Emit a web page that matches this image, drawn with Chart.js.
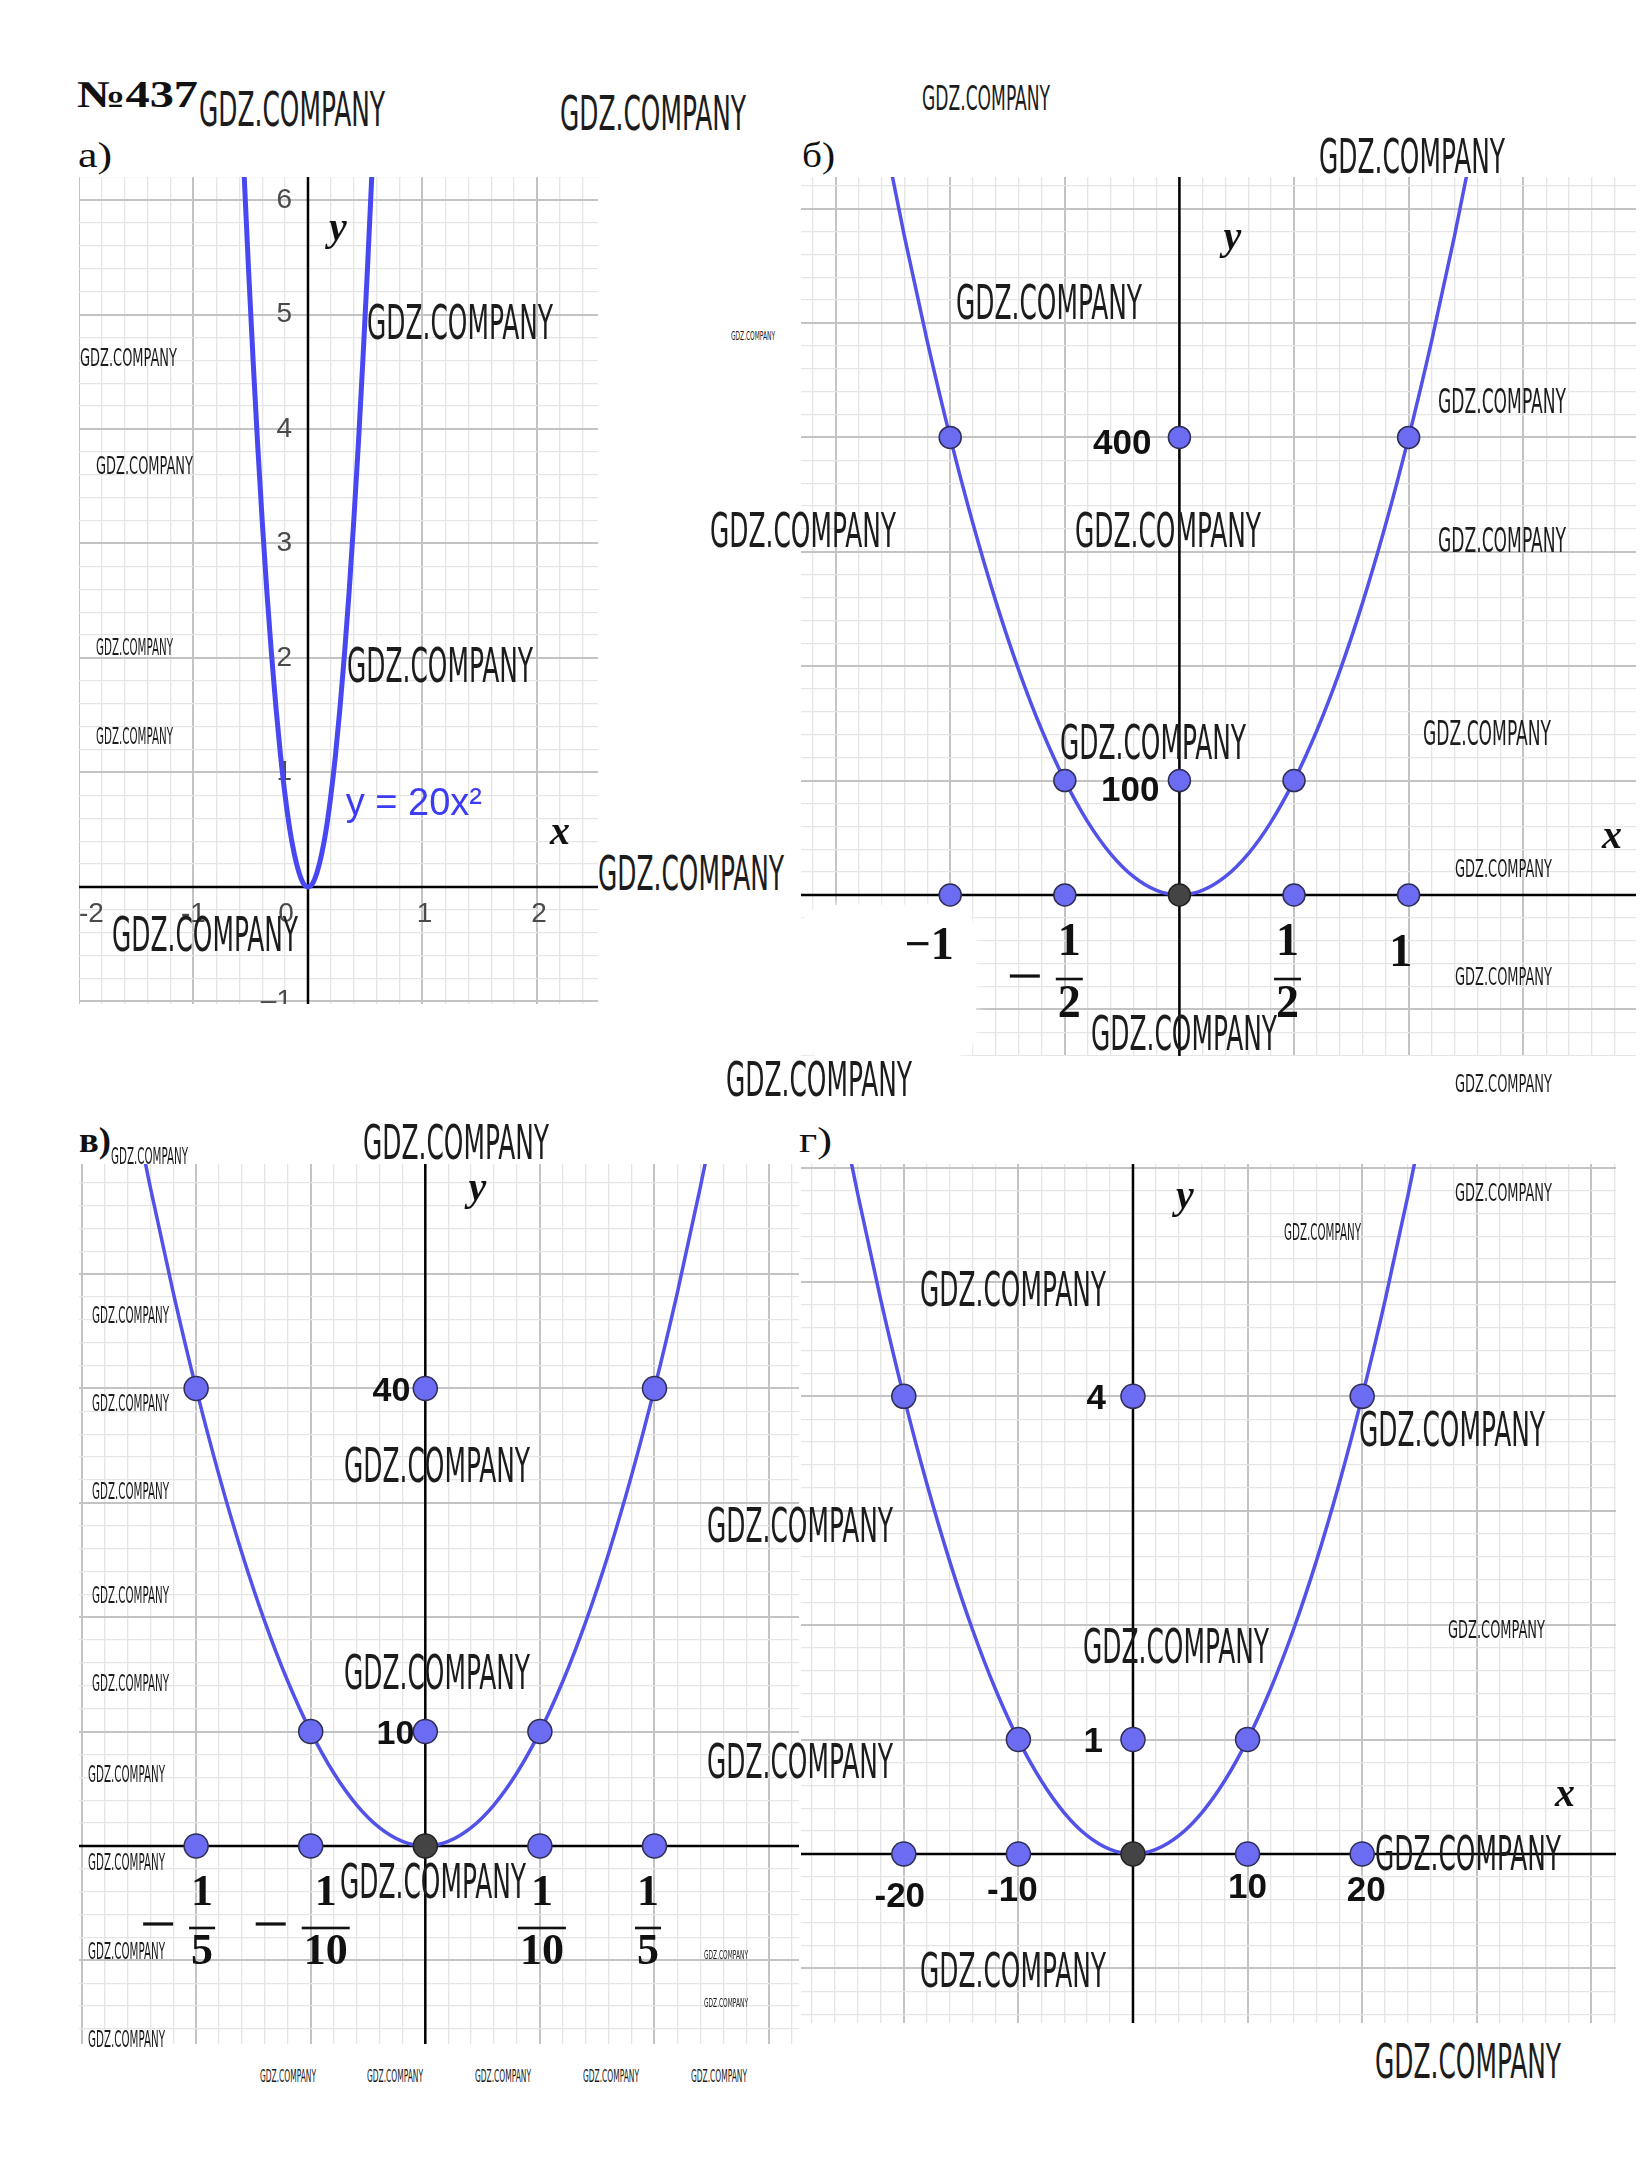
<!DOCTYPE html>
<html>
<head>
<meta charset="utf-8">
<script src="https://cdn.jsdelivr.net/npm/chart.js@4.4.1/dist/chart.umd.min.js"></script>
<style>
  body { margin: 0; background: #fff; width: 1649px; height: 2165px; position: relative; overflow: hidden; }
  .panel { position: absolute; }
  .wm { position: absolute; white-space: nowrap; font-family: "Liberation Sans Narrow", "DejaVu Sans Condensed", "Liberation Sans", sans-serif; color: #1c1c1c; transform-origin: 0 0; line-height: 1; }
  .hd { position: absolute; white-space: nowrap; font-family: "Liberation Serif", serif; color: #111; transform-origin: 0 0; line-height: 1; }
</style>
</head>
<body>
<div class="panel" style="left:79px;top:177px;width:519px;height:827px"><canvas id="ca"></canvas></div>
<div class="panel" style="left:801px;top:177px;width:835px;height:879px"><canvas id="cb"></canvas></div>
<div class="panel" style="left:79px;top:1164px;width:720px;height:880px"><canvas id="cv"></canvas></div>
<div class="panel" style="left:801px;top:1164px;width:815px;height:859px"><canvas id="cg"></canvas></div>
<script>
// а) y = 20x²
const curveAx = [-0.56,-0.52,-0.48,-0.44,-0.4,-0.36,-0.32,-0.28,-0.24,-0.2,-0.16,-0.12,-0.08,-0.04,0,0.04,0.08,0.12,0.16,0.2,0.24,0.28,0.32,0.36,0.4,0.44,0.48,0.52,0.56];
const curveAy = [6.27,5.41,4.61,3.87,3.2,2.59,2.05,1.57,1.15,0.8,0.51,0.29,0.13,0.03,0,0.03,0.13,0.29,0.51,0.8,1.15,1.57,2.05,2.59,3.2,3.87,4.61,5.41,6.27];
const ticksAx = [-2,-1,0,1,2];
const labelsAx = ['-2','-1','0','1','2'];
const ticksAy = [6,5,4,3,2,1,-1];
const labelsAy = ['6','5','4','3','2','1','–1'];

// б) y = 400x²
const curveBx = [-1.3,-1.2,-1.1,-1,-0.9,-0.8,-0.7,-0.6,-0.5,-0.4,-0.3,-0.2,-0.1,0,0.1,0.2,0.3,0.4,0.5,0.6,0.7,0.8,0.9,1,1.1,1.2,1.3];
const curveBy = [676,576,484,400,324,256,196,144,100,64,36,16,4,0,4,16,36,64,100,144,196,256,324,400,484,576,676];
const dotsBx = [-1,-0.5,0.5,1,0,0,-1,-0.5,0.5,1];
const dotsBy = [400,100,100,400,400,100,0,0,0,0];
const ticksBx = [-1,-0.5,0.5,1];
const labelsBx = ['−1','−1/2','1/2','1'];
const ticksBy = [400,100];
const labelsBy = ['400','100'];

// в) y = 1000x²
const curveVx = [-0.25,-0.24,-0.22,-0.2,-0.18,-0.16,-0.14,-0.12,-0.1,-0.08,-0.06,-0.04,-0.02,0,0.02,0.04,0.06,0.08,0.1,0.12,0.14,0.16,0.18,0.2,0.22,0.24,0.25];
const curveVy = [62.5,57.6,48.4,40,32.4,25.6,19.6,14.4,10,6.4,3.6,1.6,0.4,0,0.4,1.6,3.6,6.4,10,14.4,19.6,25.6,32.4,40,48.4,57.6,62.5];
const dotsVx = [-0.2,-0.1,0.1,0.2,0,0,-0.2,-0.1,0.1,0.2];
const dotsVy = [40,10,10,40,40,10,0,0,0,0];
const ticksVx = [-0.2,-0.1,0.1,0.2];
const labelsVx = ['−1/5','−1/10','1/10','1/5'];
const ticksVy = [40,10];
const labelsVy = ['40','10'];

// г) y = x²/100
const curveGx = [-25,-24,-22,-20,-18,-16,-14,-12,-10,-8,-6,-4,-2,0,2,4,6,8,10,12,14,16,18,20,22,24,25];
const curveGy = [6.25,5.76,4.84,4,3.24,2.56,1.96,1.44,1,0.64,0.36,0.16,0.04,0,0.04,0.16,0.36,0.64,1,1.44,1.96,2.56,3.24,4,4.84,5.76,6.25];
const dotsGx = [-20,-10,10,20,0,0,-20,-10,10,20];
const dotsGy = [4,1,1,4,4,1,0,0,0,0];
const ticksGx = [-20,-10,10,20];
const labelsGx = ['-20','-10','10','20'];
const ticksGy = [4,1];
const labelsGy = ['4','1'];

// watermarks: type, left, cap top
const wmTypes = { B: [186, 34], M: [128, 24], S: [97, 18], T: [77, 16], U: [56, 13], X: [44, 9] };
const watermarks = [
  ['B',199,92],['B',560,96],['M',922,86],['B',1319,139],['B',367,305],['S',80,348],['S',96,456],['X',731,332],
  ['B',956,285],['M',1438,389],['B',710,513],['B',1075,513],['M',1438,528],['T',96,639],['B',347,648],['T',96,728],
  ['B',1060,725],['M',1423,721],['B',598,856],['S',1455,859],['B',112,917],['S',1455,967],['B',1091,1016],['B',726,1062],
  ['S',1455,1074],['T',111,1148],['B',363,1125],
  ['T',92,1307],['T',92,1395],['T',92,1483],['T',92,1587],['T',92,1675],['T',88,1766],['T',88,1854],['T',88,1943],['T',88,2031],
  ['B',344,1448],['B',344,1655],['B',340,1864],['B',707,1508],['B',707,1744],
  ['B',920,1272],['S',1455,1183],['T',1284,1224],['B',1359,1412],['B',1083,1629],['S',1448,1620],['B',1375,1836],
  ['B',920,1953],['B',1375,2044],
  ['U',260,2069],['U',367,2069],['U',475,2069],['U',583,2069],['U',691,2069],['X',704,1951],['X',704,1999]
];

const pick = (v, i) => Array.isArray(v) ? v[i] : (v || 0);
const isMajor = (v, m) => Math.abs(v / m - Math.round(v / m)) < 1e-6;

function drawFrac(ctx, t, cx, y0, f) {
  const neg = t[0] === '−';
  const [n, d] = (neg ? t.slice(1) : t).split('/');
  ctx.font = f.font; ctx.fillStyle = f.color; ctx.textAlign = 'center'; ctx.textBaseline = 'middle';
  ctx.fillText(n, cx, y0 + f.num);
  ctx.fillText(d, cx, y0 + f.den);
  const half = ctx.measureText(d).width / 2 + 2;
  ctx.fillRect(cx - half, y0 + f.bar - 1.3, half * 2, 2.6);
  if (neg) ctx.fillRect(cx - half - 16 - 30, y0 + f.minus - 1.6, 30, 3.2);
}

const marksPlugin = {
  id: 'marks',
  beforeDatasetsDraw(chart, args, o) {
    const { ctx, chartArea: a } = chart;
    const sx = chart.scales.x, sy = chart.scales.y;
    const x0 = sx.getPixelForValue(0), y0 = sy.getPixelForValue(0);
    ctx.save();
    (o.erase || []).forEach(r => {
      ctx.save();
      ctx.fillStyle = 'rgba(255,255,255,0.94)';
      ctx.shadowColor = '#fff'; ctx.shadowBlur = 14;
      ctx.beginPath(); ctx.roundRect(a.left + r[0], a.top + r[1], r[2], r[3], 30); ctx.fill();
      ctx.restore();
    });
    ctx.strokeStyle = '#000'; ctx.lineWidth = 2.5;
    ctx.beginPath();
    ctx.moveTo(a.left, y0); ctx.lineTo(a.right, y0);
    ctx.moveTo(x0, a.top); ctx.lineTo(x0, a.bottom);
    ctx.stroke();

    const yl = o.yLabels;
    ctx.font = yl.font; ctx.fillStyle = yl.color; ctx.textAlign = 'right'; ctx.textBaseline = 'middle';
    yl.values.forEach((v, i) => ctx.fillText(yl.texts[i], x0 + pick(yl.dx, i), sy.getPixelForValue(v) + pick(yl.dy, i)));

    const xl = o.xLabels;
    xl.values.forEach((v, i) => {
      const t = xl.texts[i];
      let cx = sx.getPixelForValue(v) + pick(xl.dx, i);
      if (t.includes('/')) { drawFrac(ctx, t, cx, y0, xl.frac); return; }
      ctx.font = xl.font; ctx.fillStyle = xl.color; ctx.textAlign = 'center'; ctx.textBaseline = 'middle';
      const w = ctx.measureText(t).width;
      if (cx - w / 2 < a.left) cx = a.left + w / 2;
      ctx.fillText(t, cx, y0 + pick(xl.dy, i));
    });

    ctx.font = 'italic bold 40px "Liberation Serif", serif';
    ctx.fillStyle = '#111'; ctx.textAlign = 'center'; ctx.textBaseline = 'middle';
    if (o.yName) ctx.fillText('y', x0 + o.yName[0], a.top + o.yName[1]);
    if (o.xName) ctx.fillText('x', a.right + o.xName[0], y0 + o.xName[1]);

    (o.notes || []).forEach(n => {
      ctx.font = n.font; ctx.fillStyle = n.color; ctx.textAlign = 'left'; ctx.textBaseline = 'alphabetic';
      ctx.fillText(n.text, sx.getPixelForValue(n.x), sy.getPixelForValue(n.y));
    });
    ctx.restore();
  }
};

function axis(r) {
  return {
    type: 'linear', min: r.min, max: r.max,
    afterBuildTicks: s => {
      const t = [];
      for (let k = Math.ceil(r.min / r.minor - 1e-9); k * r.minor <= r.max + 1e-9; k++) {
        t.push({ value: Math.round(k * r.minor * 1e6) / 1e6 });
      }
      s.ticks = t;
    },
    ticks: { display: false },
    grid: {
      drawTicks: false,
      color: c => isMajor(c.tick.value, r.major) ? '#c3c3c3' : '#e5e5e5',
      lineWidth: c => isMajor(c.tick.value, r.major) ? 2 : 1.3
    },
    border: { display: false }
  };
}

const pts = (xs, ys) => xs.map((x, i) => ({ x, y: ys[i] }));

function makeChart(id, p) {
  const datasets = [];
  if (p.dotsX) {
    const onCurve = [], origin = [];
    p.dotsX.forEach((x, i) => onCurve.push({ x, y: p.dotsY[i] }));
    origin.push({ x: 0, y: 0 });
    datasets.push({ data: origin, pointRadius: p.r, pointBackgroundColor: '#444', pointBorderColor: '#222', pointBorderWidth: 1.5, order: 0 });
    datasets.push({ data: onCurve, pointRadius: p.r, pointBackgroundColor: '#6c6cf2', pointBorderColor: '#2e2e55', pointBorderWidth: 1.5, order: 1 });
  }
  datasets.push({
    data: pts(p.cx, p.cy), showLine: true, pointRadius: 0, borderColor: p.color, borderWidth: p.width,
    cubicInterpolationMode: 'monotone', order: 2
  });
  new Chart(document.getElementById(id), {
    type: 'scatter',
    data: { datasets },
    options: {
      responsive: true, maintainAspectRatio: false, animation: false,
      layout: { padding: 0, autoPadding: false },
      events: [],
      plugins: { legend: { display: false }, tooltip: { enabled: false }, marks: p.marks },
      scales: { x: axis(p.x), y: axis(p.y) }
    },
    plugins: [marksPlugin]
  });
}

const serifBold = 'bold 46px "Liberation Serif", serif';
const sansBold = 'bold 35px "Liberation Sans", sans-serif';

makeChart('ca', {
  cx: curveAx, cy: curveAy, color: '#4848f2', width: 5,
  x: { min: -2.0, max: 2.533, major: 1, minor: 0.2 },
  y: { min: -1.022, max: 6.201, major: 1, minor: 0.2 },
  marks: {
    yLabels: { values: ticksAy, texts: labelsAy, font: '28px "Liberation Sans", sans-serif', color: '#4a4a4a', dx: -16, dy: 0 },
    xLabels: { values: ticksAx, texts: labelsAx, font: '28px "Liberation Sans", sans-serif', color: '#4a4a4a', dx: [0,0,-22,2,2], dy: 27 },
    yName: [30, 53], xName: [-38, -53],
    notes: [{ text: 'y = 20x²', x: 0.33, y: 0.63, font: '38px "Liberation Sans", sans-serif', color: '#3c3cf5' }]
  }
});

makeChart('cb', {
  cx: curveBx, cy: curveBy, color: '#5252e8', width: 3.5, dotsX: dotsBx, dotsY: dotsBy, r: 11,
  x: { min: -1.651, max: 1.992, major: 0.5, minor: 0.1 },
  y: { min: -140.7, max: 627.6, major: 100, minor: 20 },
  marks: {
    erase: [[-2, 728, 177, 154]],
    yLabels: { values: ticksBy, texts: labelsBy, font: sansBold, color: '#111', dx: [-28, -20], dy: [7, 11] },
    xLabels: { values: ticksBx, texts: labelsBx, font: serifBold, color: '#111', dx: [-21, 4.5, -6.5, -8], dy: [52, 0, 0, 59],
      frac: { font: serifBold, color: '#111', num: 48, bar: 84, den: 110, minus: 81 } },
    yName: [53, 62], xName: [-24, -57]
  }
});

makeChart('cv', {
  cx: curveVx, cy: curveVy, color: '#5252e8', width: 3.5, dotsX: dotsVx, dotsY: dotsVy, r: 12,
  x: { min: -0.3022, max: 0.3261, major: 0.1, minor: 0.02 },
  y: { min: -17.31, max: 59.62, major: 10, minor: 2 },
  marks: {
    yLabels: { values: ticksVy, texts: labelsVy, font: 'bold 34px "Liberation Sans", sans-serif', color: '#111', dx: [-15, -11], dy: 3 },
    xLabels: { values: ticksVx, texts: labelsVx, font: serifBold, color: '#111', dx: [6, 15, 2, -6.5], dy: 0,
      frac: { font: 'bold 44px "Liberation Serif", serif', color: '#111', num: 48, bar: 82, den: 107, minus: 78 } },
    yName: [52, 26]
  }
});

makeChart('cg', {
  cx: curveGx, cy: curveGy, color: '#5252e8', width: 3.5, dotsX: dotsGx, dotsY: dotsGy, r: 12,
  x: { min: -28.97, max: 42.15, major: 10, minor: 2 },
  y: { min: -1.477, max: 6.031, major: 1, minor: 0.2 },
  marks: {
    yLabels: { values: ticksGy, texts: labelsGy, font: sansBold, color: '#111', dx: [-27, -30], dy: 3 },
    xLabels: { values: ticksGx, texts: labelsGx, font: sansBold, color: '#111', dx: [-4, -6, 0, 4], dy: [43, 37, 34.5, 37] },
    yName: [52, 34], xName: [-51, -58]
  }
});

// headings: text, left, baseline, font size, target width, bold
const heads = [['№437', 77, 107, 38, 121, true], ['а)', 78, 167, 36, 34, false], ['б)', 802, 167, 36, 33, false],
               ['в)', 79, 1152, 36, 32, true], ['г)', 799, 1152, 36, 33, false]];
heads.forEach(([t, l, base, fs, w, b]) => {
  const el = document.createElement('div');
  el.className = 'hd'; el.textContent = t;
  el.style.fontSize = fs + 'px'; el.style.fontWeight = b ? 'bold' : 'normal';
  el.style.left = l + 'px'; el.style.top = (base - 0.8375 * fs) + 'px';
  document.body.appendChild(el);
  el.style.transform = `scaleX(${w / el.getBoundingClientRect().width})`;
});

watermarks.forEach(([type, l, top]) => {
  const [w, h] = wmTypes[type];
  const fs = h / 0.716;
  const el = document.createElement('div');
  el.className = 'wm'; el.textContent = 'GDZ.COMPANY';
  el.style.fontSize = fs + 'px';
  el.style.left = l + 'px'; el.style.top = (top - 0.13 * fs) + 'px';
  document.body.appendChild(el);
  el.style.transform = `scaleX(${w / el.getBoundingClientRect().width})`;
});
</script>
</body>
</html>
